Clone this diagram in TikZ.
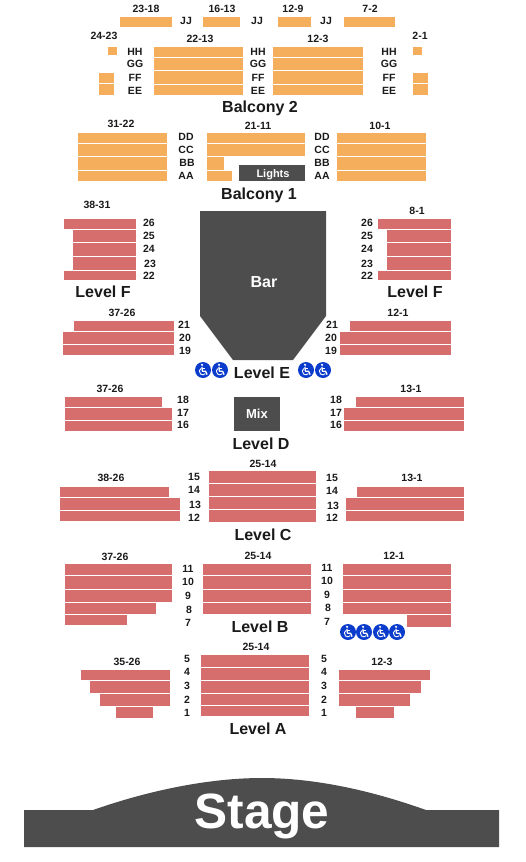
\documentclass[tikz,border=0pt]{standalone}
\usepackage{fontspec}
\setmainfont{Liberation Sans}
\definecolor{orangeseat}{HTML}{F4AE5C}
\definecolor{redseat}{HTML}{D76E6E}
\definecolor{darkblock}{HTML}{4D4D4D}
\definecolor{wheelblue}{HTML}{0B3CCB}
\definecolor{inktext}{HTML}{1A1A1A}
\tikzset{
  rowlabel/.style={font=\bfseries\fontsize{10.5}{12}\selectfont,text=inktext,inner sep=0pt,text height=7.5pt,text depth=0pt},
  levellabel/.style={font=\bfseries\fontsize{16}{18}\selectfont,text=inktext,inner sep=0pt,text height=11.5pt,text depth=0pt},
  wheel/.pic={
    \fill[wheelblue] (0,0) circle[radius=8pt];
    \fill[white] (-0.9,-5.2) circle[radius=1.2pt];
    \draw[white,line width=1.3pt,line join=round] (-1.1,-3.2) -- (-0.6,1.2) -- (2.6,1.2) -- (4.1,4.6);
    \draw[white,line width=1pt] (-1,-1.2) -- (2.2,-1.2);
    \draw[white,line width=0.9pt] (2.3,3.6) arc[start angle=-40,end angle=-240,radius=3.4pt];
  }
}
\newcommand{\seats}[2]{\foreach \xa/\ya/\xb/\yb in {#2} \fill[#1] (\xa,\ya) rectangle (\xb,\yb);}
\begin{document}
\begin{tikzpicture}[x=1pt,y=-1pt]
\useasboundingbox (0,0) rectangle (525,862);
% balcony 2
\seats{orangeseat}{120/17/172/26.7,203/17/240/26.7,278/17/311/26.7,344/17/395/26.7,
 108/47/117/55,413/47/422/55,
 154/47/243/57,154/58/243/70,154/71/243/84,154/85/243/95,
 273/47/363/57,273/58/363/70,273/71/363/84,273/85/363/95,
 99/73/114/83,99/84/114/95,413/73/428/83,413/84/428/95}
% balcony 1
\seats{orangeseat}{78/133/167/143,78/144/167/156,78/157/167/170,78/171/167/181,
 207/133/305/143,207/144/305/156,207/157/224/170,207/171/232/181,
 337/133/426/143,337/144/426/156,337/157/426/170,337/171/426/181}
% level F
\seats{redseat}{64/219/136/229,73/230/136/242,73/243/136/256,73/257/136/270,64/271/136/280,
 378/219/451/229,387/230/451/242,387/243/451/256,387/257/451/270,378/271/451/280}
% level E
\seats{redseat}{74/321/174/331,63/332/174/344,63/345/174/355,
 350/321/451/331,340/332/451/344,340/345/451/355}
% level D
\seats{redseat}{65/397/162/407,65/408/172/420,65/421/172/431,
 356/397/464/407,344/408/464/420,344/421/464/431}
% level C
\seats{redseat}{209/471/316/483,209/484/316/496,209/497/316/509,209/510/316/522,
 60/487/169/497,60/498/180/510,60/511/180/521,
 357/487/464/497,346/498/464/510,346/511/464/521}
% level B
\seats{redseat}{65/564/172/575,65/576/172/589,65/590/172/602,65/603/156/614,65/615/127/625,
 203/564/311/575,203/576/311/589,203/590/311/602,203/603/311/614,
 343/564/451/575,343/576/451/589,343/590/451/602,343/603/451/614,407/615/451/627}
% level A
\seats{redseat}{201/655/309/667,201/668/309/680,201/681/309/693,201/694/309/705,201/706/309/716,
 81/670/170/680,90/681/170/693,100/694/170/706,116/707/153/718,
 339/670/430/680,339/681/421/693,339/694/410/706,356/707/394/718}
% dark blocks
\fill[darkblock] (239,165) rectangle (305,181);
\fill[darkblock] (200,211) -- (326,211) -- (326,316) -- (293,360) -- (233,360) -- (200,316) -- cycle;
\fill[darkblock] (234,397) rectangle (280,431);
\fill[darkblock] (24,810) -- (93,810) .. controls (150,790) and (210,778) .. (262,778) .. controls (314,778) and (370,790) .. (426,810) -- (499,810) -- (499,847) -- (24,847) -- cycle;
% wheelchair icons
\foreach \x/\y in {203/370,220/370,306/370,323/370,348/632,364/632,381/632,397/632}
  \pic at (\x,\y) {wheel};
% row and section labels
\foreach \x/\y/\t [count=\n] in {
 146/9/23-18,222/9/16-13,293/9/12-9,370/9/7-2,186/21/JJ,257/21/JJ,326/21/JJ,
 104/36/24-23,200/39/22-13,318/39/12-3,420/36/2-1,
 135/52/HH,135/64/GG,135/78/FF,135/91/EE,258/52/HH,258/64/GG,258/78/FF,258/91/EE,389/52/HH,389/64/GG,389/78/FF,389/91/EE,
 121/124/31-22,258/125.5/21-11,380/125.5/10-1,
 186/137/DD,186/150/CC,187/163/BB,186/176/AA,322/137/DD,322/150/CC,322/163/BB,322/176/AA,
 97/205/38-31,417/211/8-1,
 149/223/26,149/236/25,149/249/24,150/264/23,149/276/22,367/223/26,367/236/25,367/249/24,367/264/23,367/276/22,
 122/313/37-26,398/313/12-1,184/325/21,185/338/20,185/351/19,332/325/21,331/338/20,331/351/19,
 110/389/37-26,411/389/13-1,183/400/18,183/413/17,183/425/16,336/400/18,336/413/17,336/425/16,
 263/464/25-14,111/478/38-26,412/478/13-1,
 194/477/15,194/490/14,195/505/13,194/517.5/12,332/478/15,332/491/14,333/506/13,332/518/12,
 115/557/37-26,258/556/25-14,394/556/12-1,
 188/569/11,188/582/10,188/596/9,189/610/8,188/623/7,327/568/11,327/581/10,327/595/9,328/608/8,327/622/7,
 256/647/25-14,127/662/35-26,382/662/12-3,
 187/659/5,187/672/4,187/686/3,187/700/2,187/713/1,324/659/5,324/672/4,324/686/3,324/700/2,324/713/1}
  \node[rowlabel] (r\n) at (\x,\y) {\t};
% level labels
\foreach \x/\y/\t [count=\n] in {
 260/107/Balcony 2,259/194/Balcony 1,103/292/Level F,415/292/Level F,262/373/Level E,
 261/444/Level D,263/535/Level C,260/627/Level B,258/729/Level A}
  \node[levellabel] (l\n) at (\x,\y) {\t};
% labels on dark blocks
\node[font=\bfseries\fontsize{11}{13}\selectfont,text=white,inner sep=0pt,text height=8pt,text depth=0pt] (lights) at (273,173) {Lights};
\node[font=\bfseries\fontsize{16}{18}\selectfont,text=white,inner sep=0pt,text height=11.5pt,text depth=0pt] (bar) at (264,282) {Bar};
\node[font=\bfseries\fontsize{13}{15}\selectfont,text=white,inner sep=0pt,text height=9.3pt,text depth=0pt] (mix) at (257,414) {Mix};
\node[font=\bfseries\fontsize{49.6}{52}\selectfont,text=white,inner sep=0pt,text height=35.5pt,text depth=0pt] (stage) at (262,811) {Stage};
\end{tikzpicture}
\end{document}
